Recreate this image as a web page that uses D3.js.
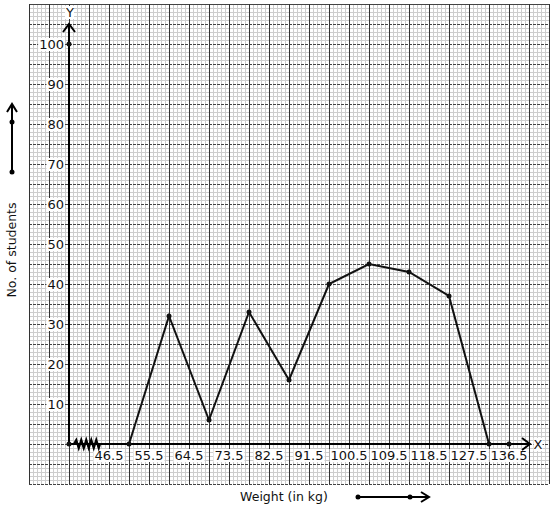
<!DOCTYPE html>
<html><head><meta charset="utf-8">
<script src="https://cdn.jsdelivr.net/npm/d3@7"></script>
<style>html,body{margin:0;padding:0;background:#fff;}svg{display:block;font-family:"DejaVu Sans",sans-serif;}</style>
</head><body>
<svg id="c" width="554" height="510"></svg>
<script>
// Data
const classBoundaries = [46.5, 55.5, 64.5, 73.5, 82.5, 91.5, 100.5, 109.5, 118.5, 127.5, 136.5];
const classMarks = [51, 60, 69, 78, 87, 96, 105, 114, 123, 132];
const students = [0, 32, 6, 33, 16, 40, 45, 43, 37, 0];
const yTicks = [10, 20, 30, 40, 50, 60, 70, 80, 90, 100];

const svg = d3.select("#c");
const gx0 = 29, gx1 = 549, gy0 = 4, gy1 = 484;

const x = d3.scaleLinear().domain([37.5, 136.5]).range([69, 509]);
const y = d3.scaleLinear().domain([0, 100]).range([444, 44]);

// grid paper
const grid = svg.append("g");
for (let px = gx0; px <= gx1; px += 4) {
  if ((px - gx0) % 20 === 0) continue;
  grid.append("line").attr("x1", px + 0.5).attr("x2", px + 0.5).attr("y1", gy0).attr("y2", gy1)
    .attr("stroke", "#cdcdcd").attr("stroke-width", 1);
}
for (let py = gy0; py <= gy1; py += 4) {
  if ((py - gy0) % 20 === 0) continue;
  grid.append("line").attr("x1", gx0).attr("x2", gx1).attr("y1", py + 0.5).attr("y2", py + 0.5)
    .attr("stroke", "#cdcdcd").attr("stroke-width", 1);
}
for (let py = gy0; py <= gy1; py += 20) {
  grid.append("line").attr("x1", gx0).attr("x2", gx1).attr("y1", py + 0.5).attr("y2", py + 0.5)
    .attr("stroke", "#444").attr("stroke-width", 1)
    .attr("stroke-dasharray", (py === gy0) ? null : "3,1");
}
for (let px = gx0; px <= gx1; px += 20) {
  grid.append("line").attr("x1", px + 0.5).attr("x2", px + 0.5).attr("y1", gy0).attr("y2", gy1)
    .attr("stroke", "#333").attr("stroke-width", 1);
}

// Y tick labels
const yl = svg.append("g");
yTicks.forEach(t => {
  const txt = yl.append("text").attr("x", 64).attr("y", y(t) + 5).attr("text-anchor", "end")
    .attr("font-size", 13).attr("fill", "#111").text(t);
  const bb = txt.node().getBBox();
  yl.insert("rect", "text").attr("x", bb.x - 1).attr("y", bb.y + 1).attr("width", bb.width + 2).attr("height", bb.height - 2).attr("fill", "#fff");
});

// X tick labels
const xl = svg.append("g");
classBoundaries.forEach(t => {
  const txt = xl.append("text").attr("x", x(t)).attr("y", 460).attr("text-anchor", "middle")
    .attr("font-size", 13).attr("fill", "#111").text(t);
  const bb = txt.node().getBBox();
  xl.insert("rect", "text").attr("x", bb.x - 1).attr("y", bb.y + 1).attr("width", bb.width + 2).attr("height", bb.height - 2).attr("fill", "#fff");
});

// axes
const ax = svg.append("g").attr("stroke", "#000").attr("fill", "none");
ax.append("line").attr("x1", 69).attr("x2", 530).attr("y1", 444).attr("y2", 444).attr("stroke-width", 2);
ax.append("line").attr("x1", 69).attr("x2", 69).attr("y1", 444).attr("y2", 25).attr("stroke-width", 2);
ax.append("path").attr("d", "M522,438 L530,444 L522,450").attr("stroke-width", 2);
ax.append("path").attr("d", "M63,32 L69,24 L75,32").attr("stroke-width", 2);
// axis break zigzag
let zz = "M74,444";
for (let i = 0; i < 5; i++) { const bx = 75 + i * 5; zz += ` L${bx + 1.25},440 L${bx + 3.75},448`; }
zz += " L100,444";
ax.append("path").attr("d", zz).attr("stroke-width", 2.2);

// axis letters
const lab = svg.append("g").attr("font-size", 13).attr("fill", "#111");
const yLetter = lab.append("text").attr("x", 70).attr("y", 17).attr("text-anchor", "middle").text("Y");
const xLetter = lab.append("text").attr("x", 538).attr("y", 449).attr("text-anchor", "middle").text("X");
[yLetter, xLetter].forEach(t => {
  const bb = t.node().getBBox();
  lab.insert("rect", "text").attr("x", bb.x).attr("y", bb.y + 1).attr("width", bb.width).attr("height", bb.height - 2).attr("fill", "#fff");
});

// polygon
const pts = classMarks.map((m, i) => [x(m), y(students[i])]);
svg.append("path").attr("d", d3.line()(pts)).attr("fill", "none").attr("stroke", "#111").attr("stroke-width", 2);
const dots = svg.append("g").attr("fill", "#111");
pts.forEach(p => dots.append("circle").attr("cx", p[0]).attr("cy", p[1]).attr("r", 2.5));
dots.append("circle").attr("cx", x(136.5)).attr("cy", y(0)).attr("r", 2.5);
dots.append("circle").attr("cx", x(37.5)).attr("cy", y(0)).attr("r", 2.5);
dots.append("circle").attr("cx", x(37.5)).attr("cy", y(100)).attr("r", 2.5);

// axis titles
svg.append("text").attr("transform", "translate(16,250) rotate(-90)").attr("text-anchor", "middle")
  .attr("font-size", 12.5).attr("fill", "#111").text("No. of students");
svg.append("text").attr("x", 284).attr("y", 501).attr("text-anchor", "middle")
  .attr("font-size", 12.5).attr("fill", "#111").text("Weight (in kg)");

// direction arrows
const da = svg.append("g").attr("stroke", "#000").attr("fill", "none").attr("stroke-width", 2);
da.append("line").attr("x1", 12).attr("x2", 12).attr("y1", 172).attr("y2", 104);
da.append("path").attr("d", "M7,112 L12,104 L17,112");
da.append("line").attr("x1", 358).attr("x2", 429).attr("y1", 497).attr("y2", 497);
da.append("path").attr("d", "M421,492 L429,497 L421,502");
const dd = svg.append("g").attr("fill", "#000");
[[12, 172], [12, 122], [358, 497], [410, 497]].forEach(p => dd.append("circle").attr("cx", p[0]).attr("cy", p[1]).attr("r", 2.5));
</script>
</body></html>
